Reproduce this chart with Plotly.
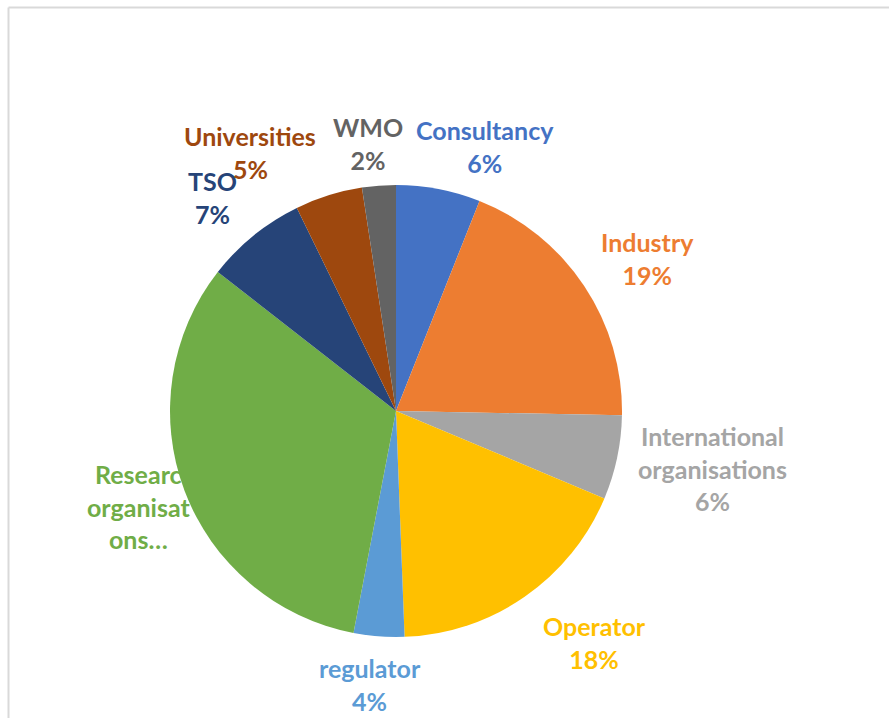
import plotly.graph_objects as go

W, H = 889, 718

categories = ["Consultancy", "Industry", "International organisations", "Operator",
              "regulator", "Research organisations", "TSO", "Universities", "WMO"]
counts = [5, 16, 5, 15, 3, 27, 6, 4, 2]
# label names as shown (the Research label is cut by the pie in the reference)
label_names = ["Consultancy", "Industry", "International<br>organisations", "Operator",
               "regulator", "Researc<br>organisat<br>ons…", "TSO", "Universities", "WMO"]

colors = ["#4472C4", "#ED7D31", "#A5A5A5", "#FFC000", "#5B9BD5",
          "#70AD47", "#264478", "#9E480E", "#636363"]

# label block centres in pixels (layout styling)
label_pos = [(485, 146), (647, 258), (712, 468), (594, 642), (370, 684),
             (138, 506), (212, 197), (250, 136), (368, 144)]
univ_pct_pos = (250, 169)

cx, cy, r = 396, 411, 226
FONT = "Lato"
FS = 25

total = sum(counts)
pcts = [f"{round(100 * c / total)}%" for c in counts]

fig = go.Figure(go.Pie(
    labels=categories, values=counts, sort=False, direction="clockwise", rotation=0,
    marker=dict(colors=colors, line=dict(width=0)),
    textinfo="none", hoverinfo="label+percent", showlegend=False,
    domain=dict(x=[(cx - r) / W, (cx + r) / W], y=[(H - cy - r) / H, (H - cy + r) / H]),
))

annotations = []
for i, (name, pct, col, (px, py)) in enumerate(zip(label_names, pcts, colors, label_pos)):
    if categories[i] == "Research organisations":
        txt = name
    elif categories[i] == "Universities":
        txt = name
        annotations.append(dict(
            x=univ_pct_pos[0] / W, y=1 - univ_pct_pos[1] / H, xref="paper", yref="paper",
            text="<b>" + pct + "</b>", showarrow=False,
            font=dict(family=FONT, size=FS, color=col), xanchor="center", yanchor="middle"))
    else:
        txt = name + "<br>" + pct
    annotations.append(dict(
        x=px / W, y=1 - py / H, xref="paper", yref="paper", text="<b>" + txt + "</b>",
        showarrow=False, font=dict(family=FONT, size=FS, color=col),
        xanchor="center", yanchor="middle", align="center"))

shapes = [
    dict(type="line", xref="paper", yref="paper", x0=8.5 / W, x1=1, y0=1 - 7.5 / H, y1=1 - 7.5 / H,
         line=dict(color="#D9D9D9", width=2)),
    dict(type="line", xref="paper", yref="paper", x0=8.5 / W, x1=8.5 / W, y0=0, y1=1 - 7.5 / H,
         line=dict(color="#D9D9D9", width=2)),
]

fig.update_layout(width=W, height=H, margin=dict(l=0, r=0, t=0, b=0),
                  paper_bgcolor="white", plot_bgcolor="white",
                  annotations=annotations, shapes=shapes)
fig.write_html("out.html", config={"displayModeBar": False},
               post_script="document.body.style.margin='0';")
